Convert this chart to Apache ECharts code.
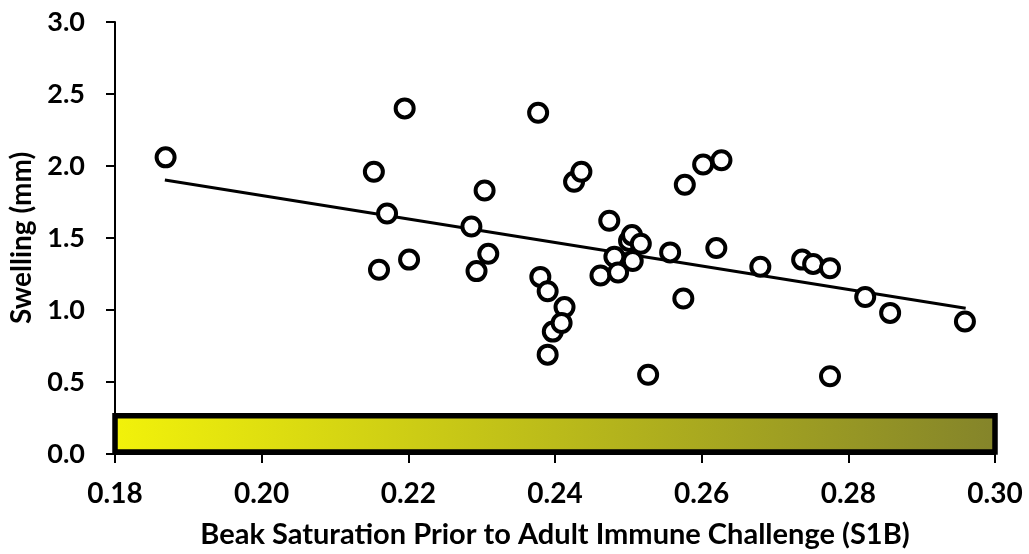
<!DOCTYPE html>
<html>
<head>
<meta charset="utf-8">
<script src="https://cdn.jsdelivr.net/npm/echarts@6/dist/echarts.min.js"></script>
<style>
  html, body { margin: 0; padding: 0; background: #fff; }
  #chart { width: 1029px; height: 554px; }
</style>
</head>
<body>
<div id="chart"></div>
<script>
// Beak saturation (S1B) vs. swelling after adult immune challenge
const saturation = [
  0.1869, 0.2153, 0.2195, 0.2171, 0.2160, 0.2201, 0.2286, 0.2304, 0.2293, 0.2309,
  0.2377, 0.2380, 0.2390, 0.2413, 0.2397, 0.2409, 0.2390, 0.2426, 0.2436, 0.2474,
  0.2462, 0.2481, 0.2486, 0.2501, 0.2505, 0.2517, 0.2506, 0.2557, 0.2575, 0.2527,
  0.2577, 0.2602, 0.2627, 0.2620, 0.2680, 0.2737, 0.2752, 0.2775, 0.2775, 0.2823,
  0.2857, 0.2959
];
const swelling = [
  2.06, 1.96, 2.40, 1.67, 1.28, 1.35, 1.58, 1.83, 1.27, 1.39,
  2.37, 1.23, 1.13, 1.02, 0.85, 0.91, 0.69, 1.89, 1.96, 1.62,
  1.24, 1.37, 1.26, 1.48, 1.52, 1.46, 1.34, 1.40, 1.08, 0.55,
  1.87, 2.01, 2.04, 1.43, 1.30, 1.35, 1.32, 1.29, 0.54, 1.09,
  0.98, 0.92
];

// Fitted trend line end points
const trendX = [0.1868, 0.2960];
const trendY = [1.903, 1.012];

// Colour-scale band along the bottom of the plot
const bandX = [0.18, 0.30];
const bandY = [0.014, 0.266];
const bandColors = ['#f2f20a', '#84842a'];

const xTicks = { min: 0.18, max: 0.30, step: 0.02 };
const yTicks = { min: 0, max: 3, step: 0.5 };

const FONT = 'Lato';

const chart = echarts.init(document.getElementById('chart'), null, { renderer: 'canvas' });

const points = saturation.map((x, i) => [x, swelling[i]]);
const trend = trendX.map((x, i) => [x, trendY[i]]);

chart.setOption({
  animation: false,
  backgroundColor: '#ffffff',
  grid: {
    left: 115, right: 34, top: 22, bottom: 100,
    containLabel: false,
    outerBoundsMode: 'none'
  },
  xAxis: {
    type: 'value',
    min: xTicks.min,
    max: xTicks.max,
    interval: xTicks.step,
    name: 'Beak Saturation Prior to Adult Immune Challenge (S1B)',
    nameLocation: 'middle',
    nameGap: 66,
    nameTextStyle: { fontFamily: FONT, fontWeight: 'bold', fontSize: 29, color: '#000' },
    splitLine: { show: false },
    axisLine: { show: true, onZero: false, lineStyle: { color: '#000', width: 2 } },
    axisTick: { show: true, inside: false, length: 9, lineStyle: { color: '#000', width: 2 } },
    axisLabel: {
      margin: 26,
      fontFamily: FONT, fontWeight: 'bold', fontSize: 28, color: '#000',
      formatter: v => v.toFixed(2)
    }
  },
  yAxis: {
    type: 'value',
    min: yTicks.min,
    max: yTicks.max,
    interval: yTicks.step,
    name: 'Swelling (mm)',
    nameLocation: 'middle',
    nameGap: 79,
    nameTextStyle: { fontFamily: FONT, fontWeight: 'bold', fontSize: 28, color: '#000' },
    splitLine: { show: false },
    axisLine: { show: true, lineStyle: { color: '#000', width: 2 } },
    axisTick: { show: true, inside: false, length: 9, lineStyle: { color: '#000', width: 2 } },
    axisLabel: {
      margin: 30,
      fontFamily: FONT, fontWeight: 'bold', fontSize: 27, color: '#000',
      formatter: v => v.toFixed(1)
    }
  },
  series: [
    {
      name: 'trend',
      type: 'line',
      data: trend,
      symbol: 'none',
      lineStyle: { color: '#000', width: 3 },
      silent: true,
      z: 2,
      markArea: {
        silent: true,
        itemStyle: {
          color: new echarts.graphic.LinearGradient(0, 0, 1, 0, [
            { offset: 0, color: bandColors[0] },
            { offset: 1, color: bandColors[1] }
          ]),
          borderColor: '#000',
          borderWidth: 5.5
        },
        data: [[{ coord: [bandX[0], bandY[0]] }, { coord: [bandX[1], bandY[1]] }]]
      }
    },
    {
      name: 'birds',
      type: 'scatter',
      data: points,
      symbol: 'circle',
      symbolSize: 18,
      itemStyle: { color: '#fff', borderColor: '#000', borderWidth: 4, opacity: 1 },
      z: 3
    }
  ]
});
</script>
</body>
</html>
